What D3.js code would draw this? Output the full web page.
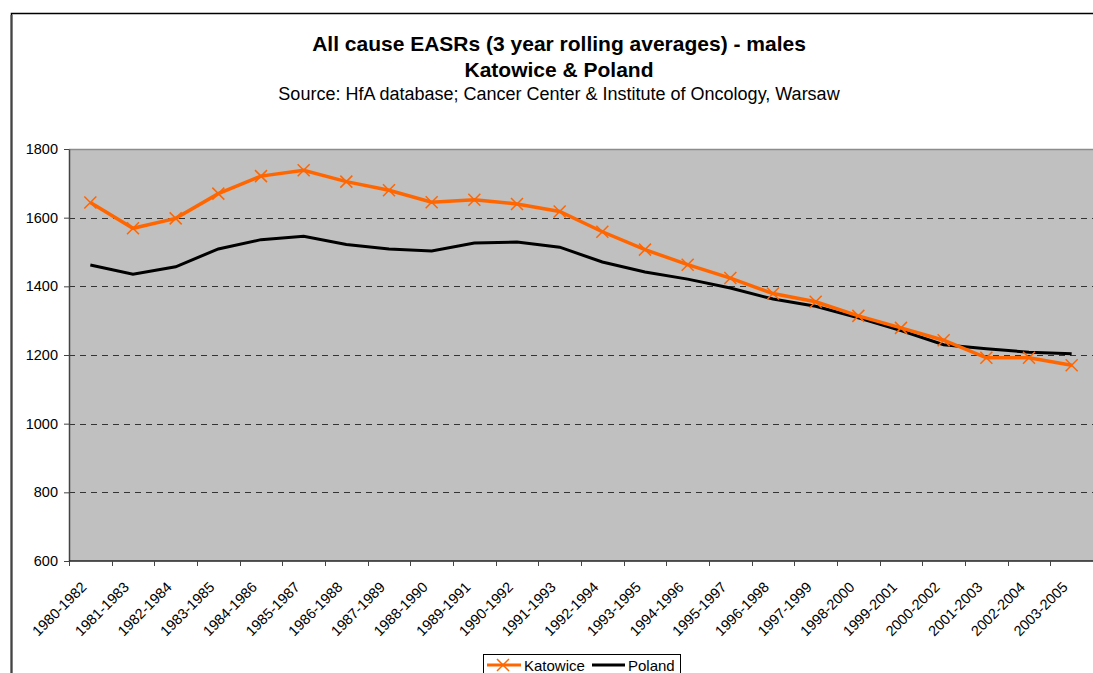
<!DOCTYPE html>
<meta charset="utf-8">
<style>
  body { margin: 0; background: #fff; }
  text { font-family: "Liberation Sans", Arial, sans-serif; }
</style>
<svg></svg>
<script src="https://cdn.jsdelivr.net/npm/d3@7"></script>
<script>
var width = 1093,
    height = 673;

var periods = ["1980-1982", "1981-1983", "1982-1984", "1983-1985", "1984-1986", "1985-1987",
  "1986-1988", "1987-1989", "1988-1990", "1989-1991", "1990-1992", "1991-1993", "1992-1994",
  "1993-1995", "1994-1996", "1995-1997", "1996-1998", "1997-1999", "1998-2000", "1999-2001",
  "2000-2002", "2001-2003", "2002-2004", "2003-2005"];

var katowice = [1644, 1569, 1598, 1670, 1721, 1738, 1705, 1680, 1645, 1652, 1640, 1618,
  1559, 1507, 1463, 1424, 1379, 1355, 1314, 1279, 1243, 1192, 1192, 1170];

var poland = [1462, 1435, 1457, 1509, 1536, 1546, 1522, 1509, 1503, 1526, 1529, 1514,
  1471, 1442, 1421, 1395, 1363, 1342, 1308, 1271, 1230, 1218, 1208, 1204];

var yTicks = [600, 800, 1000, 1200, 1400, 1600, 1800];

var margin = {top: 149, right: 0, bottom: 111, left: 69};

var svg = d3.select("svg")
    .attr("width", width)
    .attr("height", height);

// outer chart frame
svg.append("path")
    .attr("d", "M11.5," + height + "V13.5H" + width)
    .attr("fill", "none")
    .attr("stroke", "#000")
    .attr("stroke-width", 1.5);
svg.append("line")
    .attr("x1", 11.5).attr("x2", 11.5).attr("y1", 15).attr("y2", height)
    .attr("stroke", "#444").attr("stroke-width", 2);

var title = svg.append("g").attr("text-anchor", "middle");
title.append("text").attr("x", 559).attr("y", 51)
    .attr("font-size", 21).attr("font-weight", "bold")
    .text("All cause EASRs (3 year rolling averages) - males");
title.append("text").attr("x", 559).attr("y", 77)
    .attr("font-size", 21).attr("font-weight", "bold")
    .text("Katowice & Poland");
title.append("text").attr("x", 559).attr("y", 100)
    .attr("font-size", 18)
    .text("Source: HfA database; Cancer Center & Institute of Oncology, Warsaw");

var x = d3.scaleBand()
    .domain(periods)
    .range([margin.left, width - margin.right]);

var y = d3.scaleLinear()
    .domain([600, 1800])
    .range([height - margin.bottom - 1, margin.top]);

// plot area
svg.append("rect")
    .attr("x", margin.left)
    .attr("y", y(1800))
    .attr("width", width - margin.left - margin.right)
    .attr("height", y(600) - y(1800))
    .attr("fill", "#c0c0c0");
svg.append("line")
    .attr("x1", margin.left).attr("x2", width)
    .attr("y1", y(1800) + 0.5).attr("y2", y(1800) + 0.5)
    .attr("stroke", "#8c8c8c").attr("stroke-width", 1.5);

svg.append("g")
  .selectAll("line")
  .data(yTicks.filter(function(d) { return d > 600 && d < 1800; }))
  .join("line")
    .attr("x1", margin.left).attr("x2", width)
    .attr("y1", function(d) { return Math.round(y(d)) + 0.5; })
    .attr("y2", function(d) { return Math.round(y(d)) + 0.5; })
    .attr("stroke", "#333")
    .attr("stroke-dasharray", "6,5");

// y axis
var yAxis = svg.append("g")
    .attr("transform", "translate(" + margin.left + ",0)")
    .call(d3.axisLeft(y).tickValues(yTicks).tickSize(5).tickSizeOuter(0).tickFormat(d3.format("d")));
yAxis.select(".domain").attr("stroke", "#444").attr("stroke-width", 1.5);
yAxis.selectAll(".tick line").attr("stroke", "#444");
yAxis.selectAll("text")
    .attr("font-size", 14.5).attr("font-family", "Liberation Sans, Arial, sans-serif")
    .attr("fill", "#000").attr("x", -11);

// x axis: ticks at band boundaries
var xAxis = svg.append("g")
    .attr("transform", "translate(0," + y(600) + ")");
xAxis.append("line")
    .attr("x1", margin.left).attr("x2", width)
    .attr("stroke", "#222").attr("stroke-width", 1.5);
xAxis.selectAll(".tk")
  .data(periods)
  .join("line")
    .attr("class", "tk")
    .attr("x1", function(d) { return Math.round(x(d)) + 0.5; })
    .attr("x2", function(d) { return Math.round(x(d)) + 0.5; })
    .attr("y1", 0).attr("y2", 5)
    .attr("stroke", "#444");
xAxis.selectAll(".lbl")
  .data(periods)
  .join("text")
    .attr("class", "lbl")
    .attr("font-size", 14.5)
    .attr("text-anchor", "end")
    .attr("transform", function(d) {
      return "translate(" + (x(d) + x.bandwidth() / 2 - 3) + ",27) rotate(-45)";
    })
    .text(function(d) { return d; });

var line = d3.line()
    .x(function(d, i) { return x(periods[i]) + x.bandwidth() / 2; })
    .y(function(d) { return y(d); });

svg.append("path")
    .datum(poland)
    .attr("d", line)
    .attr("fill", "none")
    .attr("stroke", "#000")
    .attr("stroke-width", 3);

svg.append("path")
    .datum(katowice)
    .attr("d", line)
    .attr("fill", "none")
    .attr("stroke", "#ff6600")
    .attr("stroke-width", 3.5);

svg.append("g")
  .selectAll("path")
  .data(katowice)
  .join("path")
    .attr("transform", function(d, i) {
      return "translate(" + (x(periods[i]) + x.bandwidth() / 2) + "," + y(d) + ")";
    })
    .attr("d", "M-6,-6L6,6M-6,6L6,-6")
    .attr("stroke", "#ff6600")
    .attr("stroke-width", 1.5);

// legend
var legend = svg.append("g");
legend.append("rect")
    .attr("x", 483.5).attr("y", 654.5)
    .attr("width", 197).attr("height", 30)
    .attr("fill", "#fff").attr("stroke", "#000");
legend.append("line")
    .attr("x1", 487).attr("x2", 521).attr("y1", 665).attr("y2", 665)
    .attr("stroke", "#ff6600").attr("stroke-width", 3);
legend.append("path")
    .attr("transform", "translate(503,665)")
    .attr("d", "M-6,-6L6,6M-6,6L6,-6")
    .attr("stroke", "#ff6600").attr("stroke-width", 1.5);
legend.append("text")
    .attr("x", 524).attr("y", 670.5).attr("font-size", 15)
    .text("Katowice");
legend.append("line")
    .attr("x1", 592).attr("x2", 625).attr("y1", 665).attr("y2", 665)
    .attr("stroke", "#000").attr("stroke-width", 3);
legend.append("text")
    .attr("x", 628).attr("y", 670.5).attr("font-size", 15)
    .text("Poland");
</script>
